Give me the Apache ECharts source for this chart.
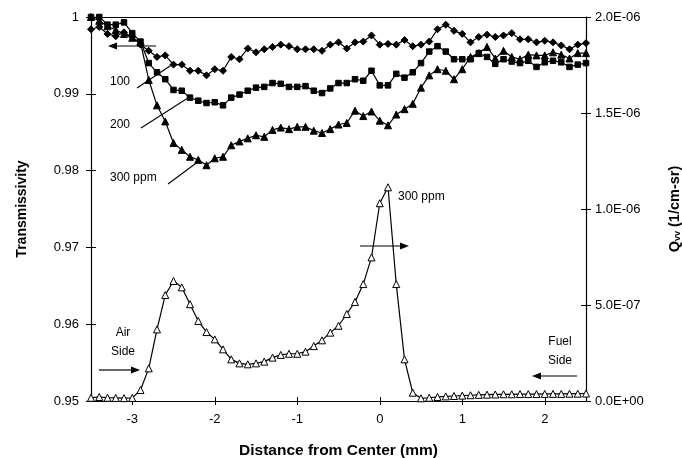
<!DOCTYPE html>
<html><head><meta charset="utf-8">
<script src="https://cdn.jsdelivr.net/npm/echarts@6/dist/echarts.min.js"></script>
<style>html,body{margin:0;padding:0;background:#fff}#c{width:682px;height:458px}</style>
</head><body><div id="c"></div>
<script>
const dist = [-3.5,-3.4,-3.3,-3.2,-3.1,-3.0,-2.9,-2.8,-2.7,-2.6,-2.5,-2.4,-2.3,-2.2,-2.1,-2.0,-1.9,-1.8,-1.7,-1.6,-1.5,-1.4,-1.3,-1.2,-1.1,-1.0,-0.9,-0.8,-0.7,-0.6,-0.5,-0.4,-0.3,-0.2,-0.1,0.0,0.1,0.2,0.3,0.4,0.5,0.6,0.7,0.8,0.9,1.0,1.1,1.2,1.3,1.4,1.5,1.6,1.7,1.8,1.9,2.0,2.1,2.2,2.3,2.4,2.5];
const trans100 = [0.9984,0.9987,0.9978,0.9975,0.9980,0.9974,0.9964,0.9956,0.9948,0.9950,0.9938,0.9938,0.9930,0.9930,0.9924,0.9932,0.9930,0.9948,0.9945,0.9959,0.9954,0.9958,0.9961,0.9964,0.9962,0.9958,0.9958,0.9958,0.9956,0.9964,0.9967,0.9959,0.9967,0.9968,0.9976,0.9964,0.9965,0.9964,0.9970,0.9962,0.9964,0.9968,0.9984,0.9990,0.9982,0.9978,0.9967,0.9974,0.9977,0.9974,0.9976,0.9979,0.9971,0.9971,0.9967,0.9969,0.9967,0.9963,0.9958,0.9964,0.9966];
const trans200 = [1.0000,1.0000,0.9990,0.9990,0.9993,0.9979,0.9968,0.9940,0.9928,0.9919,0.9905,0.9904,0.9895,0.9891,0.9888,0.9889,0.9885,0.9895,0.9899,0.9904,0.9908,0.9909,0.9914,0.9913,0.9909,0.9909,0.9910,0.9904,0.9901,0.9907,0.9914,0.9914,0.9919,0.9917,0.9930,0.9911,0.9911,0.9926,0.9921,0.9928,0.9940,0.9955,0.9962,0.9955,0.9945,0.9945,0.9945,0.9953,0.9948,0.9939,0.9945,0.9942,0.9940,0.9943,0.9935,0.9941,0.9943,0.9941,0.9935,0.9938,0.9940];
const trans300 = [1.0000,0.9995,0.9988,0.9983,0.9978,0.9973,0.9967,0.9918,0.9885,0.9864,0.9836,0.9827,0.9818,0.9814,0.9807,0.9816,0.9818,0.9833,0.9838,0.9842,0.9846,0.9844,0.9853,0.9856,0.9854,0.9857,0.9857,0.9852,0.9849,0.9854,0.9860,0.9862,0.9878,0.9871,0.9877,0.9865,0.9859,0.9873,0.9880,0.9887,0.9908,0.9924,0.9932,0.9930,0.9919,0.9932,0.9948,0.9953,0.9961,0.9946,0.9956,0.9948,0.9945,0.9951,0.9950,0.9950,0.9954,0.9951,0.9946,0.9953,0.9953];
const qvv300 = [1.7e-8,2.1e-8,1.7e-8,1.6e-8,1.5e-8,1.6e-8,5.7e-8,1.70e-7,3.73e-7,5.52e-7,6.25e-7,5.92e-7,5.04e-7,4.17e-7,3.59e-7,3.21e-7,2.69e-7,2.17e-7,1.96e-7,1.91e-7,1.96e-7,2.05e-7,2.26e-7,2.40e-7,2.46e-7,2.46e-7,2.57e-7,2.86e-7,3.16e-7,3.56e-7,3.92e-7,4.53e-7,5.16e-7,6.09e-7,7.48e-7,1.030e-6,1.113e-6,6.09e-7,2.17e-7,4.3e-8,1.4e-8,1.7e-8,2.1e-8,2.4e-8,2.6e-8,2.8e-8,3.0e-8,3.2e-8,3.3e-8,3.4e-8,3.5e-8,3.5e-8,3.6e-8,3.6e-8,3.6e-8,3.7e-8,3.7e-8,3.7e-8,3.8e-8,3.8e-8,3.9e-8];
const xTicks = [-3,-2,-1,0,1,2];
const xTickLabels = ['-3','-2','-1','0','1','2'];
const leftTicks = [0.95,0.96,0.97,0.98,0.99,1];
const leftTickLabels = ['0.95','0.96','0.97','0.98','0.99','1'];
const rightTicks = [0,5e-7,1e-6,1.5e-6,2e-6];
const rightTickLabels = ['0.0E+00','5.0E-07','1.0E-06','1.5E-06','2.0E-06'];

const FONT = 'Liberation Sans, Arial, sans-serif';
const pairs = (ys) => dist.map((x, i) => [x, ys[i]]);
const nearestLabel = (ticks, labels, v) => {
  let best = 0, bd = Infinity;
  ticks.forEach((t, i) => { const d = Math.abs(t - v); if (d < bd) { bd = d; best = i; } });
  return labels[best];
};

const chart = echarts.init(document.getElementById('c'), null, {renderer: 'canvas'});
const lineCommon = {type: 'line', smooth: false, lineStyle: {color: '#000', width: 1.2}, itemStyle: {color: '#000', borderColor: '#000', borderWidth: 1}, animation: false, z: 3};

function arrow(x1, y1, x2, y2) {
  const dx = x2 - x1, dy = y2 - y1, L = Math.hypot(dx, dy);
  const ux = dx / L, uy = dy / L, hl = 9, hw = 3.5;
  const bx = x2 - ux * hl, by = y2 - uy * hl;
  return [
    {type: 'line', shape: {x1, y1, x2: bx, y2: by}, style: {stroke: '#000', lineWidth: 1.2}},
    {type: 'polygon', shape: {points: [[x2, y2], [bx - uy * hw, by + ux * hw], [bx + uy * hw, by - ux * hw]]}, style: {fill: '#000'}}
  ];
}
function seg(x1, y1, x2, y2) { return {type: 'line', shape: {x1, y1, x2, y2}, style: {stroke: '#000', lineWidth: 1.1}}; }
function txt(x, y, t, align) { return {type: 'text', x, y, style: {text: t, fill: '#000', font: '12px ' + FONT, align: align || 'left', verticalAlign: 'middle'}}; }

const graphics = [].concat(
  arrow(156, 46, 108, 46),
  [txt(110, 82, '100'), seg(137, 88, 173, 64)],
  [txt(110, 125, '200'), seg(141, 128, 191, 96)],
  [txt(110, 178, '300 ppm'), seg(168, 184, 199, 161)],
  [txt(398, 197, '300 ppm')],
  arrow(360, 246, 409, 246),
  [txt(123, 333, 'Air', 'center'), txt(123, 352, 'Side', 'center')],
  arrow(99, 370, 140, 370),
  [txt(560, 342, 'Fuel', 'center'), txt(560, 361, 'Side', 'center')],
  arrow(577, 376, 532, 376)
);

const labelStyle = {color: '#000', fontFamily: FONT, fontSize: 13};
const nameStyle = {color: '#000', fontFamily: FONT, fontSize: 14, fontWeight: 'bold'};

chart.setOption({
  backgroundColor: '#fff',
  animation: false,
  grid: [
    {left: 91, right: 96, top: 17, bottom: 57, containLabel: false, outerBoundsMode: 'none'},
    {left: 91, right: 96, top: 17, bottom: 57, containLabel: false, outerBoundsMode: 'none'}
  ],
  xAxis: [
    {type: 'value', gridIndex: 0, min: -3.5, max: 2.5, position: 'bottom',
     name: 'Distance from Center (mm)', nameLocation: 'middle', nameGap: 42, nameTextStyle: {...nameStyle, fontSize: 15.5},
     axisLine: {show: true, onZero: false, lineStyle: {color: '#000', width: 1.2}},
     axisTick: {show: true, inside: false, length: 4, customValues: xTicks, lineStyle: {color: '#000', width: 1}},
     axisLabel: {show: true, margin: 12, customValues: xTicks, formatter: v => nearestLabel(xTicks, xTickLabels, v), ...labelStyle},
     splitLine: {show: false}},
    {type: 'value', gridIndex: 1, min: -3.5, max: 2.5, position: 'bottom',
     axisLine: {show: false, onZero: false},
     axisTick: {show: true, inside: true, length: 4, customValues: xTicks, lineStyle: {color: '#000', width: 1}},
     axisLabel: {show: false}, splitLine: {show: false}},
    {type: 'value', gridIndex: 1, min: -3.5, max: 2.5, position: 'top',
     axisLine: {show: true, onZero: false, lineStyle: {color: '#000', width: 1.2}},
     axisTick: {show: false}, axisLabel: {show: false}, splitLine: {show: false}}
  ],
  yAxis: [
    {type: 'value', gridIndex: 0, min: 0.95, max: 1, interval: 0.01, position: 'left',
     name: 'Transmissivity', nameLocation: 'middle', nameRotate: 90, nameGap: 62, nameTextStyle: nameStyle,
     axisLine: {show: true, onZero: false, lineStyle: {color: '#000', width: 1.2}},
     axisTick: {show: true, inside: false, length: 5, lineStyle: {color: '#000', width: 1}},
     axisLabel: {show: true, margin: 12, formatter: v => nearestLabel(leftTicks, leftTickLabels, v), ...labelStyle},
     splitLine: {show: false}},
    {type: 'value', gridIndex: 0, min: 0, max: 2e-6, interval: 5e-7, position: 'right',
     name: 'Q{s|vv} (1/cm-sr)', nameLocation: 'middle', nameRotate: 90, nameGap: 81,
     nameTextStyle: {...nameStyle, fontSize: 14.5, rich: {s: {fontFamily: FONT, fontSize: 9, fontWeight: 'bold', color: '#000', verticalAlign: 'bottom', padding: [6, 0, 0, 0]}}},
     axisLine: {show: true, onZero: false, lineStyle: {color: '#000', width: 1.2}},
     axisTick: {show: true, inside: false, length: 5, lineStyle: {color: '#000', width: 1}},
     axisLabel: {show: true, margin: 9, formatter: v => nearestLabel(rightTicks, rightTickLabels, v), ...labelStyle},
     splitLine: {show: false}},
    {type: 'value', gridIndex: 1, min: 0.95, max: 1, interval: 0.01, position: 'left',
     axisLine: {show: false, onZero: false},
     axisTick: {show: true, inside: true, length: 5, lineStyle: {color: '#000', width: 1}},
     axisLabel: {show: false}, splitLine: {show: false}},
    {type: 'value', gridIndex: 1, min: 0, max: 2e-6, interval: 5e-7, position: 'right',
     axisLine: {show: false, onZero: false},
     axisTick: {show: true, inside: true, length: 5, lineStyle: {color: '#000', width: 1}},
     axisLabel: {show: false}, splitLine: {show: false}}
  ],
  series: [
    {...lineCommon, name: '100 ppm', xAxisIndex: 0, yAxisIndex: 0, data: pairs(trans100), symbol: 'diamond', symbolSize: 7},
    {...lineCommon, name: '200 ppm', xAxisIndex: 0, yAxisIndex: 0, data: pairs(trans200), symbol: 'rect', symbolSize: 5.5},
    {...lineCommon, name: '300 ppm', xAxisIndex: 0, yAxisIndex: 0, data: pairs(trans300), symbol: 'triangle', symbolSize: 7},
    {...lineCommon, name: 'Qvv 300 ppm', xAxisIndex: 0, yAxisIndex: 1, data: pairs(qvv300), symbol: 'triangle', symbolSize: 7,
     itemStyle: {color: '#fff', borderColor: '#000', borderWidth: 1}}
  ],
  graphic: graphics
});
</script></body></html>
